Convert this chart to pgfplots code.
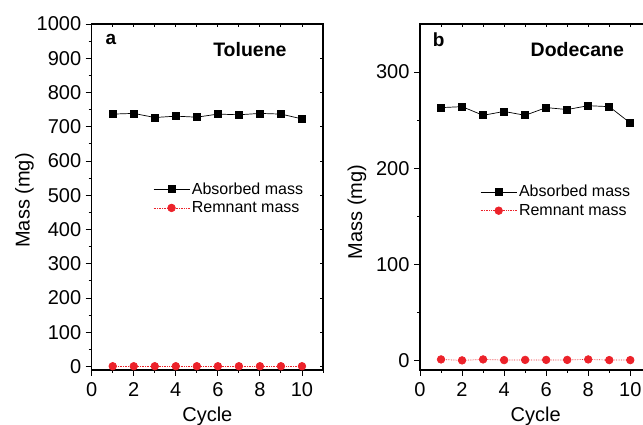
\documentclass[border=0pt]{standalone}
\usepackage{fontspec}
\setmainfont{Liberation Sans}
\usepackage{pgfplots}
\pgfplotsset{compat=1.18}
\definecolor{myred}{RGB}{236,34,42}
\pgfplotsset{
  base/.style={scale only axis, width=231.3pt, height=346pt, xmin=0, xmax=11,
    /pgf/number format/assume math mode=true,
    /pgf/number format/1000 sep={},
    ticklabel style={font=\fontsize{20}{23}\selectfont},
    label style={font=\fontsize{20}{23}\selectfont},
    axis line style={line width=1.1pt},
    tick style={line width=0.9pt, black},
  },
  main/.style={base, xtick pos=left, ytick pos=left, tick align=outside,
    xtick={0,2,...,10}, minor xtick={1,3,...,11},
    major tick length=6pt, minor tick length=3pt,
    xticklabel style={yshift=-3pt},
    yticklabel style={xshift=-1pt},
    xlabel={Cycle}, ylabel={Mass (mg)},
    xlabel style={yshift=-3pt},
    legend cell align=left,
    legend image code/.code={\draw[mark repeat=2,mark phase=2,##1] plot coordinates {(0pt,0pt)(18pt,0pt)(36pt,0pt)};},
    legend style={draw=none, fill=none, font=\fontsize{16}{19}\selectfont, inner sep=0pt, row sep=2pt, anchor=west},
  },
  mirror/.style={base, xtick pos=right, ytick pos=right, tick align=inside,
    xtick={1,...,10}, major tick length=3pt, xticklabels={}, yticklabels={}, minor tick num=0},
  absorbed/.style={black, line width=0.7pt, mark=square*, mark size=3.5pt, mark options={solid}},
  remnant/.style={myred, line width=0.7pt, densely dotted, mark=*, mark size=3.8pt, mark options={solid}},
}
\begin{document}
\begin{tikzpicture}[x=1pt,y=1pt]
\useasboundingbox (0,0) rectangle (643,425);
\clip (0,0) rectangle (643,425);
% Panel a
\begin{axis}[mirror, at={(91.7pt,55pt)}, anchor=south west, ymin=-10, ymax=1000, ytick={0,100,...,1000}]
\end{axis}
\begin{axis}[main, at={(91.7pt,55pt)}, anchor=south west, ymin=-10, ymax=1000,
  ytick={0,100,...,1000}, minor ytick={50,150,...,950},
  ylabel style={at={(ticklabel cs:0.49,-4pt)}},
  legend style={at={(rel axis cs:0.265,0.496)}}]
\addplot[absorbed] coordinates {(1,737)(2,739)(3,727)(4,731)(5,728)(6,737)(7,735)(8,739)(9,737)(10,723)};
\addlegendentry{Absorbed mass}
\addplot[remnant] coordinates {(1,1)(2,1)(3,1)(4,1)(5,1)(6,1)(7,1)(8,1)(9,1)(10,1)};
\addlegendentry{Remnant mass}
\node[anchor=west, font=\fontsize{19}{22}\selectfont\bfseries] at (rel axis cs:0.045,0.954) {a};
\node[font=\fontsize{19.5}{22}\selectfont\bfseries] at (rel axis cs:0.684,0.925) {Toluene};
\end{axis}
% Panel b
\begin{axis}[mirror, at={(420pt,55pt)}, anchor=south west, ymin=-10, ymax=350, ytick={0,100,200,300}]
\end{axis}
\begin{axis}[main, at={(420pt,55pt)}, anchor=south west, ymin=-10, ymax=350,
  ytick={0,100,200,300}, minor ytick={50,150,250},
  ylabel style={at={(ticklabel cs:0.457,3pt)}},
  legend style={at={(rel axis cs:0.26,0.488)}}]
\addplot[absorbed] coordinates {(1,263)(2,264)(3,255)(4,259)(5,255)(6,263)(7,261)(8,265)(9,264)(10,247)};
\addlegendentry{Absorbed mass}
\addplot[remnant] coordinates {(1,1)(2,0)(3,1)(4,0.3)(5,0.5)(6,0.5)(7,0.5)(8,1)(9,0.3)(10,0.3)};
\addlegendentry{Remnant mass}
\node[anchor=west, font=\fontsize{19}{22}\selectfont\bfseries] at (rel axis cs:0.04,0.954) {b};
\node[font=\fontsize{19.5}{22}\selectfont\bfseries] at (rel axis cs:0.68,0.925) {Dodecane};
\end{axis}
\end{tikzpicture}
\end{document}
